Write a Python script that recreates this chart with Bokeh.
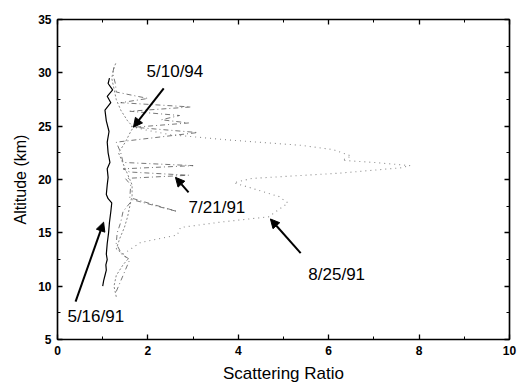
from bokeh.plotting import figure
from bokeh.models import (LinearAxis, FixedTicker, Range1d, Label, Arrow, NormalHead)
from bokeh.embed import file_html
from bokeh.resources import INLINE

# ---- data ----
alt_0516 = [10.0, 10.5, 11.0, 11.5, 12.0, 12.5, 13.0, 14.0, 15.0, 16.0, 17.0, 17.8, 18.2, 18.6,
            19.5, 20.2, 21.0, 21.6, 22.5, 23.5, 24.5, 25.5, 26.5, 27.2, 27.8, 28.4, 29.0, 29.5]
sr_0516 = [1.00, 1.02, 1.05, 1.08, 1.07, 1.10, 1.08, 1.10, 1.13, 1.15, 1.18, 1.20, 1.12, 1.08,
           1.10, 1.12, 1.10, 1.16, 1.12, 1.10, 1.14, 1.08, 1.05, 1.18, 1.10, 1.22, 1.12, 1.15]

alt_0510 = [9.0, 10.0, 11.0, 12.0, 12.5, 13.0, 13.5, 14.5, 15.5, 16.5, 17.5, 18.5, 19.5, 20.5,
            21.5, 22.5, 23.5, 24.5, 24.9, 25.5, 26.5, 27.5, 28.5, 29.5, 30.5, 31.0]
sr_0510 = [1.30, 1.25, 1.30, 1.45, 1.55, 1.45, 1.30, 1.38, 1.48, 1.55, 1.60, 1.65, 1.65, 1.55,
           1.45, 1.35, 1.50, 1.62, 1.68, 1.55, 1.40, 1.30, 1.25, 1.20, 1.25, 1.30]

alt_0721 = [9.5, 10.5, 11.5, 12.5, 13.0, 14.0, 15.0, 16.0, 17.0, 18.1, 17.0, 18.3, 19.5, 20.1,
            20.4, 20.7, 21.0, 21.3, 21.6, 22.5, 23.5, 24.4, 24.9, 25.3, 25.6, 26.0, 26.4, 26.8,
            27.2, 27.6, 28.2, 29.0, 30.0, 30.5]
sr_0721 = [1.30, 1.40, 1.50, 1.60, 1.42, 1.30, 1.32, 1.40, 1.45, 1.66, 2.65, 1.60, 1.62, 1.50,
           2.90, 1.60, 1.45, 3.00, 1.45, 1.40, 1.30, 3.10, 1.70, 2.90, 2.30, 2.70, 1.60, 2.95,
           1.40, 2.00, 1.30, 1.28, 1.22, 1.25]

alt_0825 = [13.0, 14.1, 14.8, 15.5, 16.0, 16.5, 17.8, 18.4, 19.7, 20.1, 20.6, 21.1, 21.3, 21.6,
            21.8, 22.2, 22.8, 23.2, 23.7, 24.2, 24.6, 25.0]
sr_0825 = [1.45, 1.84, 2.65, 2.72, 3.60, 4.67, 5.10, 4.90, 3.90, 4.30, 6.26, 7.60, 7.80, 7.00,
           6.30, 6.50, 6.10, 5.40, 3.80, 2.50, 2.00, 1.60]

x_ticks = [0, 2, 4, 6, 8, 10]
x_minor = [1, 3, 5, 7, 9]
y_ticks = [5, 10, 15, 20, 25, 30, 35]
y_minor = [7.5, 12.5, 17.5, 22.5, 27.5, 32.5]

FONT = "Liberation Sans"

p = figure(width=518, height=385, output_backend="svg", toolbar_location=None,
           x_range=Range1d(0, 10), y_range=Range1d(5, 35),
           x_axis_type=None, y_axis_type=None,
           min_border_left=57, min_border_right=9, min_border_top=19, min_border_bottom=45)
p.xgrid.visible = False
p.ygrid.visible = False
p.outline_line_color = "black"
p.outline_line_width = 1.2
p.background_fill_color = "white"
p.border_fill_color = "white"

def style_axis(ax, show_labels, ticks):
    ax.axis_line_width = 1.5
    ax.axis_line_color = "black"
    ax.major_tick_in = 5
    ax.major_tick_out = 0
    ax.minor_tick_in = 3
    ax.minor_tick_out = 0
    ax.major_tick_line_width = 1.3
    ax.minor_tick_line_width = 1.0
    ax.major_tick_line_color = "black"
    ax.minor_tick_line_color = "black"
    if show_labels:
        ax.major_label_text_font = FONT
        ax.major_label_text_font_size = "12px"
        ax.major_label_text_font_style = "bold"
        ax.major_label_text_color = "black"
        ax.major_label_standoff = 6
        ax.axis_label_text_font = FONT
        ax.axis_label_text_font_size = "17px"
        ax.axis_label_text_font_style = "normal"
        ax.axis_label_text_color = "black"
        ax.axis_label_standoff = 6
    else:
        ax.major_label_overrides = {t: "" for t in ticks}
        ax.major_label_standoff = 0

xb = LinearAxis(ticker=FixedTicker(ticks=x_ticks, minor_ticks=x_minor), axis_label="Scattering Ratio")
style_axis(xb, True, x_ticks)
p.add_layout(xb, "below")
xa = LinearAxis(ticker=FixedTicker(ticks=x_ticks, minor_ticks=x_minor))
style_axis(xa, False, x_ticks)
p.add_layout(xa, "above")
yl = LinearAxis(ticker=FixedTicker(ticks=y_ticks, minor_ticks=y_minor), axis_label="Altitude (km)")
style_axis(yl, True, y_ticks)
yl.axis_label_text_font_size = "16px"
p.add_layout(yl, "left")
yr = LinearAxis(ticker=FixedTicker(ticks=y_ticks, minor_ticks=y_minor))
style_axis(yr, False, y_ticks)
p.add_layout(yr, "right")

# profiles
p.line(sr_0825, alt_0825, line_color="#8a8a8a", line_width=1.1, line_dash="1 4")
p.line(sr_0721, alt_0721, line_color="#555555", line_width=0.8, line_dash="5 3 1 3")
p.line(sr_0510, alt_0510, line_color="#666666", line_width=0.8, line_dash="2 2")
p.line(sr_0516, alt_0516, line_color="black", line_width=1.2)

# annotations
labels = [("5/10/94", 1.97, 30.1), ("7/21/91", 2.9, 17.4), ("8/25/91", 5.55, 11.1), ("5/16/91", 0.22, 7.15)]
for txt, lx, ly in labels:
    p.add_layout(Label(x=lx, y=ly, text=txt, text_font=FONT, text_font_size="17px",
                       text_align="left", text_baseline="middle", text_color="black"))

arrows = [(2.35, 28.55, 1.68, 24.9), (2.9, 18.8, 2.61, 20.2), (5.38, 13.1, 4.71, 16.3), (0.4, 8.55, 1.02, 16.0)]
for xs, ys, xe, ye in arrows:
    p.add_layout(Arrow(end=NormalHead(size=9, fill_color="black", line_color="black"),
                       x_start=xs, y_start=ys, x_end=xe, y_end=ye, line_width=2, line_color="black"))

open("out.html", "w").write(file_html(p, INLINE))
